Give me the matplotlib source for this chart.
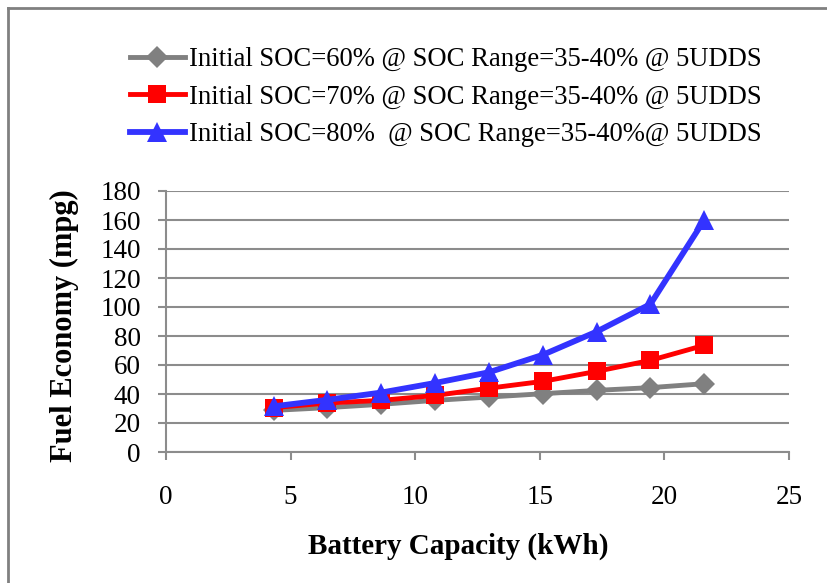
import matplotlib
matplotlib.use("Agg")
import matplotlib.pyplot as plt
from matplotlib.lines import Line2D

plt.rcParams['font.family'] = ['Liberation Serif', 'DejaVu Serif']

capacity = [4.32, 6.48, 8.64, 10.8, 12.96, 15.12, 17.28, 19.44, 21.6]
soc60 = [28.7, 30.6, 32.9, 35.6, 37.9, 40.2, 42.5, 44.4, 47.1]
soc70 = [30.6, 33.8, 35.6, 39.0, 44.0, 48.7, 55.6, 63.2, 73.6]
soc80 = [31.5, 36.0, 41.0, 47.6, 55.0, 67.0, 83.0, 102.0, 160.0]
labels = ["Initial SOC=60% @ SOC Range=35-40% @ 5UDDS",
          "Initial SOC=70% @ SOC Range=35-40% @ 5UDDS",
          "Initial SOC=80%  @ SOC Range=35-40%@ 5UDDS"]
xticks = [0, 5, 10, 15, 20, 25]
yticks = list(range(0, 181, 20))

W, H = 827, 583
fig = plt.figure(figsize=(W / 100, H / 100), dpi=100)
ax = fig.add_axes([166 / W, 1 - 452 / H, (789 - 166) / W, (452 - 191) / H])

grid_c = '#8c8c8c'
h1, = ax.plot(capacity, soc60, color='#808080', lw=3.5, marker='D', ms=11, mew=0, zorder=3)
h2, = ax.plot(capacity, soc70, color='#ff0000', lw=3.5, marker='s', ms=13.5, mew=0, zorder=4)
h3, = ax.plot(capacity, soc80, color='#3333ff', lw=4.2, marker='^', ms=14, mew=0, zorder=5)

ax.set_xlim(0, 25)
ax.set_ylim(0, 180)
ax.set_xticks(xticks)
ax.set_yticks(yticks)
ax.yaxis.grid(True, color=grid_c, lw=1.5)
ax.set_axisbelow(True)
for s in ['top', 'right']:
    ax.spines[s].set_visible(False)
for s in ['left', 'bottom']:
    ax.spines[s].set_color(grid_c)
    ax.spines[s].set_linewidth(1.5)
ax.tick_params(axis='x', direction='out', length=6, width=1.5, color=grid_c, labelsize=19.5, pad=18)
ax.tick_params(axis='y', direction='out', length=6, width=1.5, color=grid_c, labelsize=19.5, pad=12)

fig.text(458 / W, 1 - 546 / H, 'Battery Capacity (kWh)', fontsize=21, fontweight='bold',
         ha='center', va='center')
fig.text(64 / W, 1 - 326 / H, 'Fuel Economy (mpg)', fontsize=22, fontweight='bold',
         ha='center', va='center', rotation=90)

fig.legend([h1, h2, h3], labels, loc='upper left', bbox_to_anchor=(130 / W, 1 - 47 / H),
           frameon=False, fontsize=19.2, handlelength=2.06, handletextpad=0.15,
           labelspacing=0.47, borderaxespad=0, borderpad=0, markerscale=1.0)

# outer gray frame (top and left edges visible)
fig.add_artist(Line2D([8 / W, 1.0], [1 - 8 / H, 1 - 8 / H], transform=fig.transFigure, color='#808080', lw=2))
fig.add_artist(Line2D([8 / W, 8 / W], [0, 1 - 8 / H], transform=fig.transFigure, color='#808080', lw=2))

fig.savefig('out.png', dpi=100)
